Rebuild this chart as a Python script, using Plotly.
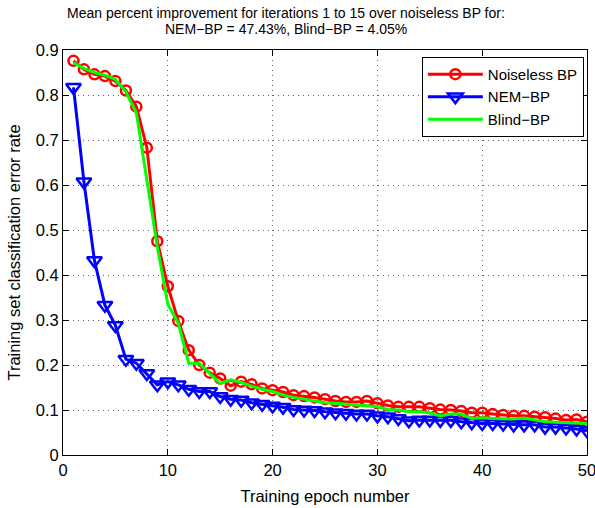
import plotly.graph_objects as go

epochs = list(range(1, 51))

noiseless_bp = [0.876, 0.857, 0.846, 0.842, 0.831, 0.810, 0.774, 0.683, 0.475, 0.375,
                0.298, 0.233, 0.200, 0.183, 0.170, 0.154, 0.163, 0.157, 0.148, 0.144,
                0.140, 0.133, 0.131, 0.128, 0.124, 0.120, 0.118, 0.118, 0.120, 0.115,
                0.110, 0.107, 0.107, 0.107, 0.104, 0.101, 0.100, 0.098, 0.094, 0.094,
                0.091, 0.089, 0.087, 0.087, 0.085, 0.084, 0.081, 0.078, 0.079, 0.074]

nem_bp = [0.817, 0.607, 0.432, 0.333, 0.288, 0.213, 0.204, 0.181, 0.156, 0.163,
          0.156, 0.146, 0.141, 0.141, 0.130, 0.124, 0.122, 0.116, 0.113, 0.109,
          0.106, 0.101, 0.100, 0.099, 0.096, 0.094, 0.093, 0.091, 0.091, 0.087,
          0.085, 0.081, 0.076, 0.078, 0.078, 0.077, 0.077, 0.074, 0.072, 0.070,
          0.070, 0.069, 0.067, 0.067, 0.067, 0.062, 0.062, 0.060, 0.058, 0.054]

blind_bp = [0.872, 0.859, 0.850, 0.844, 0.835, 0.807, 0.760, 0.610, 0.463, 0.335,
            0.293, 0.204, 0.204, 0.181, 0.159, 0.167, 0.161, 0.153, 0.146, 0.141,
            0.133, 0.128, 0.124, 0.120, 0.116, 0.115, 0.113, 0.111, 0.110, 0.107,
            0.101, 0.100, 0.096, 0.096, 0.094, 0.087, 0.091, 0.091, 0.081, 0.083,
            0.081, 0.080, 0.080, 0.082, 0.078, 0.074, 0.073, 0.072, 0.070, 0.070]

x_ticks = [0, 10, 20, 30, 40, 50]
y_ticks = [0, 0.1, 0.2, 0.3, 0.4, 0.5, 0.6, 0.7, 0.8, 0.9]
y_tick_text = ["0", "0.1", "0.2", "0.3", "0.4", "0.5", "0.6", "0.7", "0.8", "0.9"]

title_line1 = "Mean percent improvement for iterations 1 to 15 over noiseless BP for:"
title_line2 = "NEM\u2212BP = 47.43%, Blind\u2212BP = 4.05%"

FONT = "Liberation Sans, Arial, Helvetica, sans-serif"

fig = go.Figure()
fig.add_trace(go.Scatter(
    x=epochs, y=noiseless_bp, name="Noiseless BP", mode="lines+markers",
    line=dict(color="#ff0000", width=3),
    marker=dict(symbol="circle-open", size=10, color="#ff0000", line=dict(width=2.5, color="#ff0000")),
))
fig.add_trace(go.Scatter(
    x=epochs, y=nem_bp, name="NEM\u2212BP", mode="lines+markers",
    line=dict(color="#0000ff", width=3),
    marker=dict(symbol="triangle-down-open", size=13, color="#0000ff", line=dict(width=2.5, color="#0000ff")),
))
fig.add_trace(go.Scatter(
    x=epochs, y=blind_bp, name="Blind\u2212BP", mode="lines",
    line=dict(color="#00ff00", width=3),
))

axis_common = dict(
    showline=True, linecolor="black", linewidth=1, mirror="allticks",
    ticks="inside", ticklen=6, tickcolor="black",
    showgrid=True, gridcolor="rgba(0,0,0,0.6)", griddash="1px,4px", gridwidth=1,
    zeroline=False, automargin=False,
    tickfont=dict(family=FONT, size=16.5, color="black"),
)

fig.update_xaxes(range=[0, 50], tickvals=x_ticks, ticklabeloverflow="allow",
                 title=dict(text="Training epoch number", font=dict(family=FONT, size=16.5, color="black"), standoff=12),
                 **axis_common)
fig.update_yaxes(range=[0, 0.9], tickvals=y_ticks, ticktext=y_tick_text,
                 title=dict(text="Training set classification error rate", font=dict(family=FONT, size=16.5, color="black"), standoff=10),
                 **axis_common)

PLOT_TOP = 50
PLOT_H = 405
fig.add_annotation(text=title_line1, xref="paper", yref="paper", x=0.4256,
                   y=1 + (PLOT_TOP - 13) / PLOT_H, xanchor="center", yanchor="middle",
                   showarrow=False, font=dict(family=FONT, size=14, color="black"))
fig.add_annotation(text=title_line2, xref="paper", yref="paper", x=0.4256,
                   y=1 + (PLOT_TOP - 29) / PLOT_H, xanchor="center", yanchor="middle",
                   showarrow=False, font=dict(family=FONT, size=14, color="black"))

fig.update_layout(
    width=595, height=508,
    margin=dict(l=63, r=8, t=PLOT_TOP, b=53),
    paper_bgcolor="white", plot_bgcolor="white",
    font=dict(family=FONT, size=16, color="black"),
    legend=dict(x=0.994, y=0.983, xanchor="right", yanchor="top",
                bgcolor="white", bordercolor="black", borderwidth=1,
                font=dict(family=FONT, size=15, color="black"),
                tracegroupgap=0, itemwidth=55),
    showlegend=True,
)

fig.write_html("out.html",
               config={"displayModeBar": False},
               post_script="document.body.style.margin='0';document.body.style.padding='0';document.body.style.overflow='hidden';")
